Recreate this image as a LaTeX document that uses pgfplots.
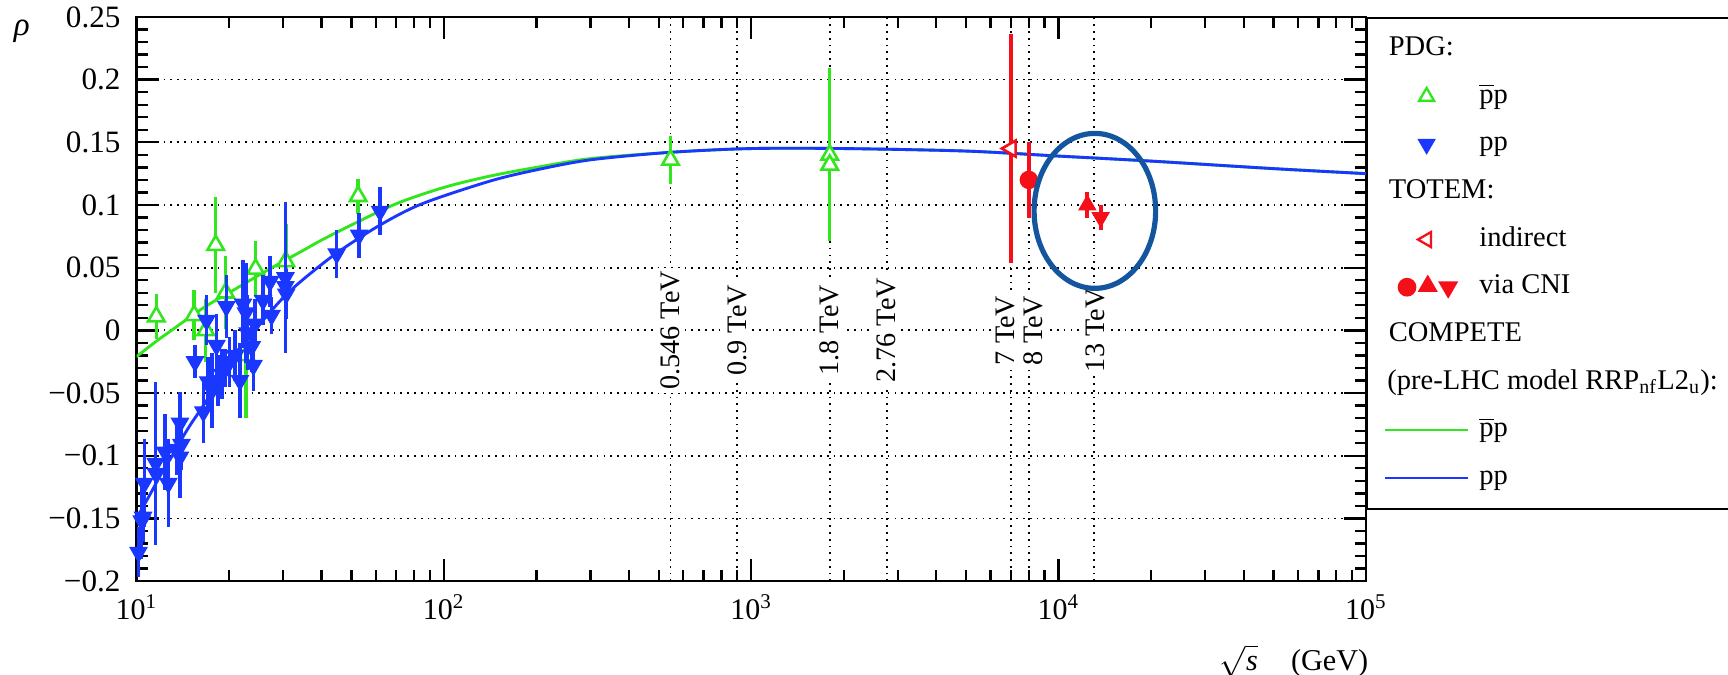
\documentclass[border=0pt]{standalone}
\usepackage{fontspec}
\setmainfont{Liberation Serif}
\usepackage{pgfplots}
\pgfplotsset{compat=1.18}
\usepackage{pgfplotstable}

\definecolor{tgreen}{RGB}{50,230,30}
\definecolor{tblue}{RGB}{25,55,255}
\definecolor{tred}{RGB}{245,15,25}
\definecolor{tell}{RGB}{20,85,160}
\newcommand{\pbar}{\ensuremath{\overline{\mbox{p}}}}
\newcommand{\hdr}[1]{\makebox[0pt][l]{\kern-31.9pt #1}}

\pgfplotstableread{
x y ey
11.6 0.011 0.018
15.4 0.012 0.020
16.8 0.000 0.025
18.1 0.068 0.038
19.5 0.030 0.029
22.7 -0.020 0.050
24.4 0.049 0.022
30.6 0.055 0.030
52.6 0.107 0.014
546 0.136 0.019
1800 0.140 0.069
1800 0.132 0.060
}\pbarpdata

\pgfplotstableread{
x y ey
10.15 -0.177 0.020
10.4 -0.152 0.030
10.5 -0.149 0.020
10.6 -0.122 0.035
11.55 -0.106 0.065
11.55 -0.114 0.030
12.38 -0.097 0.030
12.69 -0.122 0.035
13.5 -0.095 0.020
13.85 -0.074 0.025
13.85 -0.101 0.033
14.0 -0.091 0.020
15.5 -0.025 0.013
16.5 -0.065 0.025
16.9 0.008 0.020
17.1 -0.041 0.020
17.6 -0.048 0.030
18.2 -0.012 0.025
18.4 -0.040 0.020
19.0 -0.035 0.020
19.4 -0.030 0.015
19.6 0.019 0.025
20.1 -0.025 0.020
20.9 -0.020 0.020
21.7 -0.040 0.030
22.2 0.021 0.035
22.7 0.014 0.040
23.0 -0.002 0.030
23.7 -0.013 0.020
24.0 -0.028 0.020
24.3 0.005 0.020
25.8 0.024 0.020
27.2 0.039 0.020
27.5 0.012 0.015
30.5 0.042 0.060
30.5 0.035 0.020
30.7 0.029 0.020
44.8 0.061 0.019
53.0 0.076 0.018
62.0 0.095 0.019
}\ppdata

\pgfplotstableread{
x y
10 -0.021
11 -0.013
12 -0.006
13 0.000
15 0.011
17 0.020
20 0.030
25 0.044
30 0.055
35 0.064
40 0.072
50 0.084
70 0.101
100 0.114
141 0.123
200 0.130
300 0.137
546 0.142
1000 0.145
2000 0.145
5000 0.143
10000 0.139
20000 0.135
50000 0.129
100000 0.125
}\competepbarp

\pgfplotstableread{
x y
10 -0.150
11 -0.132
12 -0.115
13 -0.101
14 -0.087
15 -0.075
17 -0.055
20 -0.025
25 0.004
30 0.026
35 0.041
45 0.062
62 0.084
85 0.101
141 0.119
200 0.128
300 0.136
546 0.142
1000 0.145
2000 0.145
5000 0.143
10000 0.139
20000 0.135
50000 0.129
100000 0.125
}\competepp

\pgfplotsset{
  myimg/.style={legend image code/.code={
    \path[draw=none, fill=none] (0pt,-3pt) rectangle (28.8pt,3pt);
    \draw[mark repeat=2,mark phase=2,##1] plot coordinates {(0pt,0pt) (14.4pt,0pt) (28.8pt,0pt)};}},
}

\begin{document}
\begin{tikzpicture}
\useasboundingbox (0,0) rectangle (600pt,234.375pt);
\begin{axis}[
  name=ax,
  at={(47.4pt,32.6pt)}, anchor=south west,
  scale only axis, width=426.9pt, height=195.9pt,
  xmode=log, xmin=10, xmax=100000,
  ymin=-0.2, ymax=0.25,
  xtick={10,100,1000,10000,100000},
  xticklabels={10\textsuperscript{1},10\textsuperscript{2},10\textsuperscript{3},10\textsuperscript{4},10\textsuperscript{5}},
  ytick={-0.2,-0.15,-0.1,-0.05,0,0.05,0.1,0.15,0.2,0.25},
  yticklabels={−0.2,−0.15,−0.1,−0.05,0,0.05,0.1,0.15,0.2,0.25},
  minor y tick num=4,
  tick align=inside, tick pos=both,
  xticklabel pos=lower, yticklabel pos=left,
  major tick length=7.8pt, minor tick length=4pt,
  every tick/.style={black, line width=0.8pt},
  axis line style={line width=0.9pt},
  yticklabel style={font=\fontsize{10.8}{12}\selectfont, anchor=east, inner sep=0pt, xshift=-5.4pt},
  xticklabel style={font=\fontsize{10.4}{12}\selectfont, anchor=north, inner sep=0pt, yshift=-4.6pt},
  ymajorgrids=true,
  major grid style={black, line width=0.6pt, dash pattern=on 0.6pt off 1.75pt},
  extra x ticks={546,900,1800,2760,7000,8000,13000},
  extra x tick labels={},
  extra x tick style={grid=major, major tick length=0pt},
  clip mode=individual,
  legend cell align=left,
  legend style={at={(1,1)}, anchor=north west, draw=black, line width=0.7pt, fill=white,
    inner xsep=5.9pt, inner ysep=6.0pt, row sep=7.05pt, column sep=3.5pt,
    font=\fontsize{9.9}{11}\selectfont,
    nodes={inner sep=0pt, text height=7pt, text depth=2.5pt}},
]
% COMPETE curves
\addplot[tgreen, line width=1pt, smooth, forget plot] table {\competepbarp};
\addplot[tblue, line width=1pt, smooth, forget plot] table {\competepp};
% PDG pbar p
\addplot[tgreen, only marks, mark=triangle*, mark size=3.3pt,
  mark options={fill=white, draw=tgreen, line width=0.9pt}, forget plot,
  error bars/.cd, y dir=both, y explicit, error mark=none,
  error bar style={line width=1.2pt, tgreen}]
  table[x=x, y=y, y error=ey] {\pbarpdata};
% PDG pp
\addplot[tblue, only marks, mark=triangle*, mark size=3.4pt,
  mark options={fill=tblue, draw=tblue, rotate=180}, forget plot,
  error bars/.cd, y dir=both, y explicit, error mark=none,
  error bar style={line width=1.2pt, tblue}]
  table[x=x, y=y, y error=ey] {\ppdata};
% TOTEM
\addplot[tred, only marks, mark=triangle*, mark size=3.2pt,
  mark options={fill=white, draw=tred, rotate=90, line width=0.9pt}, forget plot,
  error bars/.cd, y dir=both, y explicit, error mark=none,
  error bar style={line width=1.3pt, tred}]
  coordinates {(7000,0.145) +- (0,0.091)};
\addplot[tred, only marks, mark=*, mark size=3pt,
  mark options={fill=tred, draw=tred}, forget plot,
  error bars/.cd, y dir=both, y explicit, error mark=none,
  error bar style={line width=1.3pt, tred}]
  coordinates {(8000,0.12) +- (0,0.03)};
\addplot[tred, only marks, mark=triangle*, mark size=3.3pt,
  mark options={fill=tred, draw=tred}, forget plot,
  error bars/.cd, y dir=both, y explicit, error mark=none,
  error bar style={line width=1.3pt, tred}]
  coordinates {(12400,0.10) +- (0,0.01)};
\addplot[tred, only marks, mark=triangle*, mark size=3.3pt,
  mark options={fill=tred, draw=tred, rotate=180}, forget plot,
  error bars/.cd, y dir=both, y explicit, error mark=none,
  error bar style={line width=1.3pt, tred}]
  coordinates {(13700,0.09) +- (0,0.01)};

% energy labels
\begin{scope}[every node/.style={rotate=90, fill=white, inner sep=1.2pt, font=\fontsize{9.8}{11}\selectfont}]
\node at (axis cs:546,0) {0.546 TeV};
\node at (axis cs:900,0) {0.9 TeV};
\node at (axis cs:1800,0) {1.8 TeV};
\node at (axis cs:2760,0) {2.76 TeV};
\node at (axis cs:6710,0) {7 TeV};
\node at (axis cs:8280,0) {8 TeV};
\node at (axis cs:13200,0) {13 TeV};
\end{scope}
\draw[tell, line width=1.8pt] (axis cs:13120,0.0953) ellipse [x radius=21.1pt, y radius=26.9pt];

% legend
\addlegendimage{empty legend}\addlegendentry{\hdr{PDG:}}
\addlegendimage{only marks, mark=triangle*, mark size=3pt, mark options={fill=white, draw=tgreen, line width=0.8pt}, myimg}\addlegendentry{\pbar p}
\addlegendimage{only marks, mark=triangle*, mark size=3pt, mark options={fill=tblue, draw=tblue, rotate=180}, myimg}\addlegendentry{pp}
\addlegendimage{empty legend}\addlegendentry{\hdr{TOTEM:}}
\addlegendimage{only marks, mark=triangle*, mark size=3pt, mark options={fill=white, draw=tred, rotate=90, line width=0.8pt}, myimg}\addlegendentry{indirect}
\addlegendimage{legend image code/.code={
  \path[draw=none, fill=none] (0pt,-3pt) rectangle (28.8pt,3pt);
  \fill[tred] (7.6pt,0pt) circle (2.9pt);
  \fill[tred] (11.9pt,-1.3pt) -- (17.7pt,-1.3pt) -- (14.8pt,3.7pt) -- cycle;
  \fill[tred] (19.0pt,1.7pt) -- (24.8pt,1.7pt) -- (21.9pt,-3.3pt) -- cycle;}}
\addlegendentry{via CNI}
\addlegendimage{empty legend}\addlegendentry{\hdr{COMPETE}}
\addlegendimage{empty legend}\addlegendentry{\mbox{}\kern-31.9pt (pre-LHC model RRP\textsubscript{nf}L2\textsubscript{u}):\hspace*{12pt}}
\addlegendimage{tgreen, line width=0.8pt, myimg}\addlegendentry{\pbar p}
\addlegendimage{tblue, line width=0.8pt, myimg}\addlegendentry{pp}
\end{axis}
\node[font=\fontsize{11.5}{12}\selectfont] at ([xshift=-39.8pt, yshift=-4.9pt]ax.north west) {\textit{ρ}};
\node[anchor=east, inner sep=0pt, font=\fontsize{10.5}{12}\selectfont] at ([xshift=1pt, yshift=-27.8pt]ax.south east) {$\sqrt{\mbox{\itshape s}}$\hspace{1.1em}(GeV)};
\end{tikzpicture}
\end{document}
